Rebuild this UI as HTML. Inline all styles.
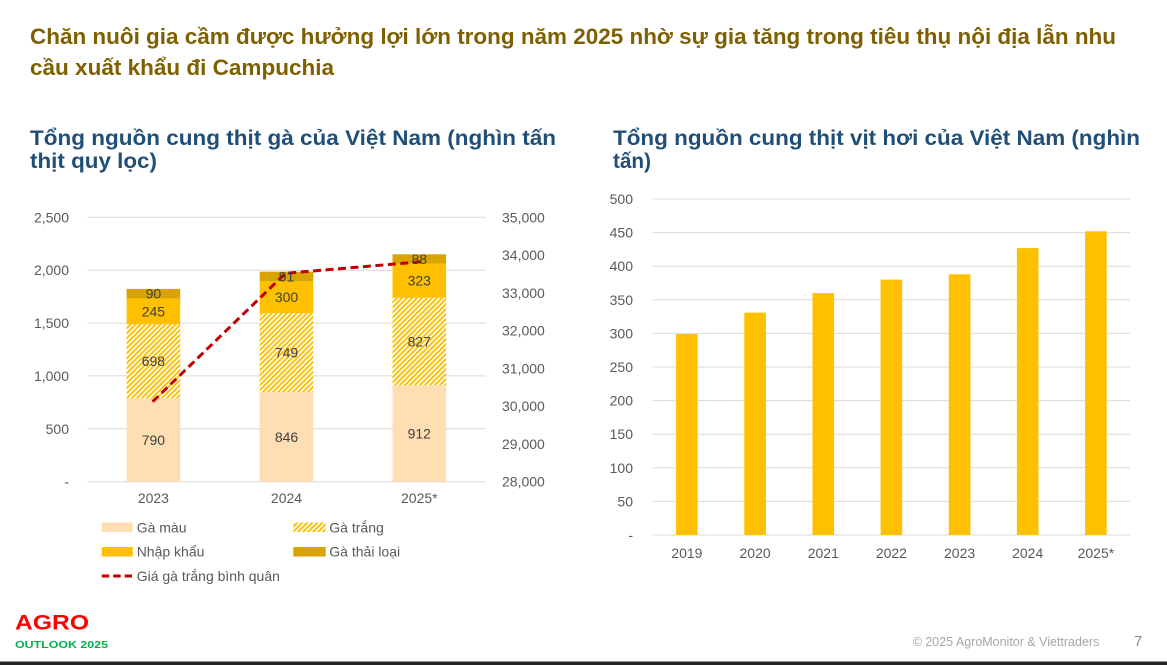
<!DOCTYPE html>
<html>
<head>
<meta charset="utf-8">
<style>
html,body{margin:0;padding:0;background:#fff;}
svg{display:block;}
text{font-family:"Liberation Sans","DejaVu Sans",sans-serif;}
</style>
</head>
<body>
<svg width="1167" height="665" viewBox="0 0 1167 665" xmlns="http://www.w3.org/2000/svg">
<defs>
<pattern id="hatch" patternUnits="userSpaceOnUse" width="5" height="5">
<rect width="5" height="5" fill="#ffffff"/>
<path d="M-1,1 L1,-1 M0,5 L5,0 M4,6 L6,4" stroke="#FFC000" stroke-width="1.9"/>
</pattern>
</defs>
<rect width="1167" height="665" fill="#ffffff"/>

<!-- Main title -->
<text x="30" y="44" font-size="22" font-weight="bold" fill="#7F6000" textLength="1086" lengthAdjust="spacingAndGlyphs">Chăn nuôi gia cầm được hưởng lợi lớn trong năm 2025 nhờ sự gia tăng trong tiêu thụ nội địa lẫn nhu</text>
<text x="30" y="75" font-size="22" font-weight="bold" fill="#7F6000" textLength="304" lengthAdjust="spacingAndGlyphs">cầu xuất khẩu đi Campuchia</text>

<!-- Subtitles -->
<text x="30" y="145" font-size="21" font-weight="bold" fill="#1F4E79" textLength="526" lengthAdjust="spacingAndGlyphs">Tổng nguồn cung thịt gà của Việt Nam (nghìn tấn</text>
<text x="30" y="168" font-size="21" font-weight="bold" fill="#1F4E79" textLength="127" lengthAdjust="spacingAndGlyphs">thịt quy lọc)</text>
<text x="613" y="145" font-size="21" font-weight="bold" fill="#1F4E79" textLength="527" lengthAdjust="spacingAndGlyphs">Tổng nguồn cung thịt vịt hơi của Việt Nam (nghìn</text>
<text x="613" y="168" font-size="21" font-weight="bold" fill="#1F4E79" textLength="38" lengthAdjust="spacingAndGlyphs">tấn)</text>

<!-- LEFT CHART -->
<g stroke="#D9D9D9" stroke-width="1">
<line x1="87.5" y1="217.3" x2="485.6" y2="217.3"/>
<line x1="87.5" y1="270.2" x2="485.6" y2="270.2"/>
<line x1="87.5" y1="323.1" x2="485.6" y2="323.1"/>
<line x1="87.5" y1="375.9" x2="485.6" y2="375.9"/>
<line x1="87.5" y1="428.8" x2="485.6" y2="428.8"/>
<line x1="87.5" y1="481.7" x2="485.6" y2="481.7"/>
</g>
<g font-size="14" fill="#595959" text-anchor="end">
<text x="69" y="222.3">2,500</text>
<text x="69" y="275.2">2,000</text>
<text x="69" y="328.1">1,500</text>
<text x="69" y="380.9">1,000</text>
<text x="69" y="433.8">500</text>
<text x="69" y="486.7">-</text>
</g>
<g font-size="14" fill="#595959" text-anchor="start">
<text x="502" y="222.3">35,000</text>
<text x="502" y="260">34,000</text>
<text x="502" y="297.8">33,000</text>
<text x="502" y="335.5">32,000</text>
<text x="502" y="373.3">31,000</text>
<text x="502" y="411.1">30,000</text>
<text x="502" y="448.9">29,000</text>
<text x="502" y="486.7">28,000</text>
</g>

<!-- stacked bars -->
<g>
<rect x="126.6" y="398.15" width="53.6" height="83.55" fill="#FFDEB3"/>
<rect x="126.6" y="324.33" width="53.6" height="73.82" fill="url(#hatch)"/>
<rect x="126.6" y="298.42" width="53.6" height="25.91" fill="#FFC000"/>
<rect x="126.6" y="288.9" width="53.6" height="9.52" fill="#DAA400"/>

<rect x="259.7" y="392.23" width="53.6" height="89.47" fill="#FFDEB3"/>
<rect x="259.7" y="313.02" width="53.6" height="79.21" fill="url(#hatch)"/>
<rect x="259.7" y="281.29" width="53.6" height="31.73" fill="#FFC000"/>
<rect x="259.7" y="271.67" width="53.6" height="9.62" fill="#DAA400"/>

<rect x="392.5" y="385.25" width="53.6" height="96.45" fill="#FFDEB3"/>
<rect x="392.5" y="297.79" width="53.6" height="87.46" fill="url(#hatch)"/>
<rect x="392.5" y="263.63" width="53.6" height="34.16" fill="#FFC000"/>
<rect x="392.5" y="254.32" width="53.6" height="9.31" fill="#DAA400"/>
</g>

<!-- price line -->
<polyline points="152.6,401.7 285.5,273.3 421.5,261.7" fill="none" stroke="#C00000" stroke-width="3" stroke-dasharray="8,4.5"/>

<!-- data labels -->
<g font-size="14" fill="#404040" text-anchor="middle">
<text x="153.4" y="445">790</text>
<text x="153.4" y="366.2">698</text>
<text x="153.4" y="316.4">245</text>
<text x="153.4" y="298.7">90</text>
<text x="286.5" y="442">846</text>
<text x="286.5" y="357.6">749</text>
<text x="286.5" y="302.2">300</text>
<text x="286.5" y="281.5">91</text>
<text x="419.3" y="438.5">912</text>
<text x="419.3" y="346.5">827</text>
<text x="419.3" y="285.7">323</text>
<text x="419.3" y="264">88</text>
</g>

<!-- x labels left -->
<g font-size="14" fill="#595959" text-anchor="middle">
<text x="153.4" y="503">2023</text>
<text x="286.5" y="503">2024</text>
<text x="419.3" y="503">2025*</text>
</g>

<!-- legend -->
<rect x="101.7" y="522.5" width="31" height="9.5" fill="#FFDEB3"/>
<text x="136.7" y="532.3" font-size="14" fill="#595959">Gà màu</text>
<rect x="293.3" y="522.5" width="32.4" height="9.5" fill="url(#hatch)"/>
<text x="329.3" y="532.3" font-size="14" fill="#595959">Gà trắng</text>
<rect x="101.7" y="547" width="31" height="9.5" fill="#FFC000"/>
<text x="136.7" y="556.7" font-size="14" fill="#595959">Nhập khẩu</text>
<rect x="293.3" y="547" width="32.4" height="9.5" fill="#DAA400"/>
<text x="329.3" y="556.7" font-size="14" fill="#595959">Gà thải loại</text>
<line x1="101.7" y1="576" x2="132" y2="576" stroke="#C00000" stroke-width="3" stroke-dasharray="7.5,4"/>
<text x="136.7" y="581" font-size="14" fill="#595959">Giá gà trắng bình quân</text>

<!-- RIGHT CHART -->
<g stroke="#D9D9D9" stroke-width="1">
<line x1="652.8" y1="199" x2="1130" y2="199"/>
<line x1="652.8" y1="232.6" x2="1130" y2="232.6"/>
<line x1="652.8" y1="266.2" x2="1130" y2="266.2"/>
<line x1="652.8" y1="299.8" x2="1130" y2="299.8"/>
<line x1="652.8" y1="333.4" x2="1130" y2="333.4"/>
<line x1="652.8" y1="367" x2="1130" y2="367"/>
<line x1="652.8" y1="400.6" x2="1130" y2="400.6"/>
<line x1="652.8" y1="434.2" x2="1130" y2="434.2"/>
<line x1="652.8" y1="467.8" x2="1130" y2="467.8"/>
<line x1="652.8" y1="501.4" x2="1130" y2="501.4"/>
<line x1="652.8" y1="535" x2="1130" y2="535"/>
</g>
<g font-size="14" fill="#595959" text-anchor="end">
<text x="633" y="204">500</text>
<text x="633" y="237.6">450</text>
<text x="633" y="271.2">400</text>
<text x="633" y="304.8">350</text>
<text x="633" y="338.4">300</text>
<text x="633" y="372">250</text>
<text x="633" y="405.6">200</text>
<text x="633" y="439.2">150</text>
<text x="633" y="472.8">100</text>
<text x="633" y="506.4">50</text>
<text x="633" y="540">-</text>
</g>
<g fill="#FFC000">
<rect x="676.1" y="334.1" width="21.6" height="200.9"/>
<rect x="744.3" y="312.6" width="21.6" height="222.4"/>
<rect x="812.5" y="293.1" width="21.6" height="241.9"/>
<rect x="880.6" y="279.6" width="21.6" height="255.4"/>
<rect x="948.8" y="274.3" width="21.6" height="260.7"/>
<rect x="1016.9" y="248.1" width="21.6" height="286.9"/>
<rect x="1085.1" y="231.3" width="21.6" height="303.7"/>
</g>
<g font-size="14" fill="#595959" text-anchor="middle">
<text x="686.9" y="558">2019</text>
<text x="755.1" y="558">2020</text>
<text x="823.3" y="558">2021</text>
<text x="891.4" y="558">2022</text>
<text x="959.6" y="558">2023</text>
<text x="1027.7" y="558">2024</text>
<text x="1095.9" y="558">2025*</text>
</g>

<!-- footer -->
<text x="15" y="629.5" font-size="21" font-weight="bold" fill="#FF0000" textLength="74" lengthAdjust="spacingAndGlyphs">AGRO</text>
<text x="15" y="648" font-size="10.5" font-weight="bold" fill="#00B050" textLength="93" lengthAdjust="spacingAndGlyphs">OUTLOOK 2025</text>
<text x="912.7" y="646" font-size="12.5" fill="#A6A6A6" textLength="186.6" lengthAdjust="spacingAndGlyphs">© 2025 AgroMonitor &amp; Viettraders</text>
<text x="1134" y="646" font-size="15" fill="#8C8C8C">7</text>
<rect x="0" y="661.5" width="1167" height="3.5" fill="#262626"/>
</svg>
</body>
</html>
